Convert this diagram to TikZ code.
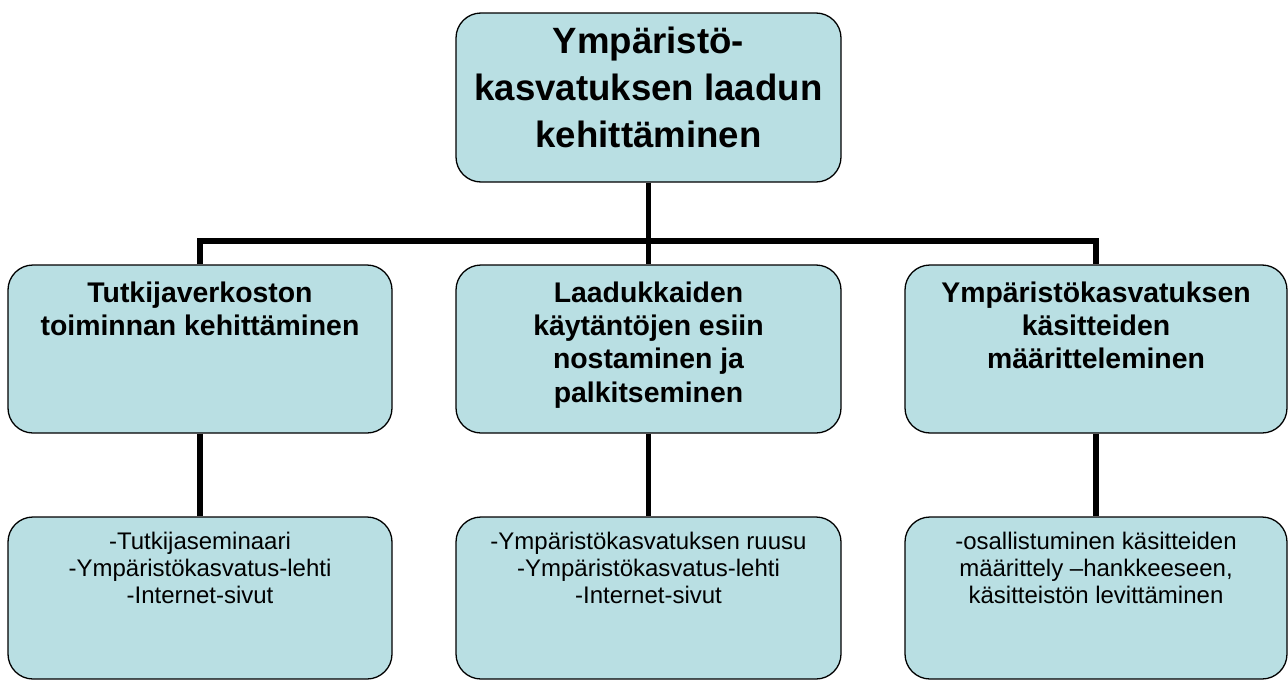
\documentclass[tikz,border=0pt]{standalone}
\usepackage{fontspec}
\setmainfont{Liberation Sans}
\usetikzlibrary{calc}
\definecolor{boxfill}{RGB}{185,223,227}
\tikzset{
  boxnode/.style={draw=black, line width=1.3pt, fill=boxfill, rounded corners=25pt, inner sep=0pt},
  conn/.style={line width=5.8pt, draw=black},
  toptext/.style={anchor=north, align=center, inner sep=0pt, font=\bfseries\fontsize{36.6}{47}\selectfont},
  midtext/.style={anchor=north, align=center, inner sep=0pt, font=\bfseries\fontsize{28.4}{33.3}\selectfont},
  bottext/.style={anchor=north, align=center, inner sep=0pt, font=\fontsize{24}{27.2}\selectfont}
}
\begin{document}
\begin{tikzpicture}[x=1pt, y=-1pt]
\useasboundingbox (0,0) rectangle (1288,680);
% boxes
\node[boxnode, minimum width=385pt, minimum height=169pt] (top) at (648.5,97.5) {};
\node[boxnode, minimum width=384pt, minimum height=168pt] (m1) at (200,349) {};
\node[boxnode, minimum width=385pt, minimum height=168pt] (m2) at (648.5,349) {};
\node[boxnode, minimum width=382pt, minimum height=168pt] (m3) at (1096,349) {};
\node[boxnode, minimum width=384pt, minimum height=162pt] (b1) at (200,598) {};
\node[boxnode, minimum width=385pt, minimum height=162pt] (b2) at (648.5,598) {};
\node[boxnode, minimum width=382pt, minimum height=162pt] (b3) at (1096,598) {};
% connectors
\coordinate (j) at ($(top.south)+(0,58.5)$);
\draw[conn] (top.south) -- (j);
\draw[conn] (m1.north) |- (j) -| (m3.north);
\draw[conn] (j) -- (m2.north);
\draw[conn] (m1.south) -- (b1.north);
\draw[conn] (m2.south) -- (b2.north);
\draw[conn] (m3.south) -- (b3.north);
% texts
\node[toptext] (tt) at (648.5,20) {\rule{0pt}{33pt}Ympäristö-\\kasvatuksen laadun\\kehittäminen};
\node[midtext] (t1) at (200,276) {\rule{0pt}{26pt}Tutkijaverkoston\\toiminnan kehittäminen};
\node[midtext] (t2) at (648.5,276) {\rule{0pt}{26pt}Laadukkaiden\\käytäntöjen esiin\\nostaminen ja\\palkitseminen};
\node[midtext] (t3) at (1096,276) {\rule{0pt}{26pt}Ympäristökasvatuksen\\käsitteiden\\määritteleminen};
\node[bottext] (u1) at (200,527) {\rule{0pt}{22pt}-Tutkijaseminaari\\-Ympäristökasvatus-lehti\\-Internet-sivut};
\node[bottext] (u2) at (648.5,527) {\rule{0pt}{22pt}-Ympäristökasvatuksen ruusu\\-Ympäristökasvatus-lehti\\-Internet-sivut};
\node[bottext] (u3) at (1096,527) {\rule{0pt}{22pt}-osallistuminen käsitteiden\\määrittely –hankkeeseen,\\käsitteistön levittäminen};
\end{tikzpicture}
\end{document}
